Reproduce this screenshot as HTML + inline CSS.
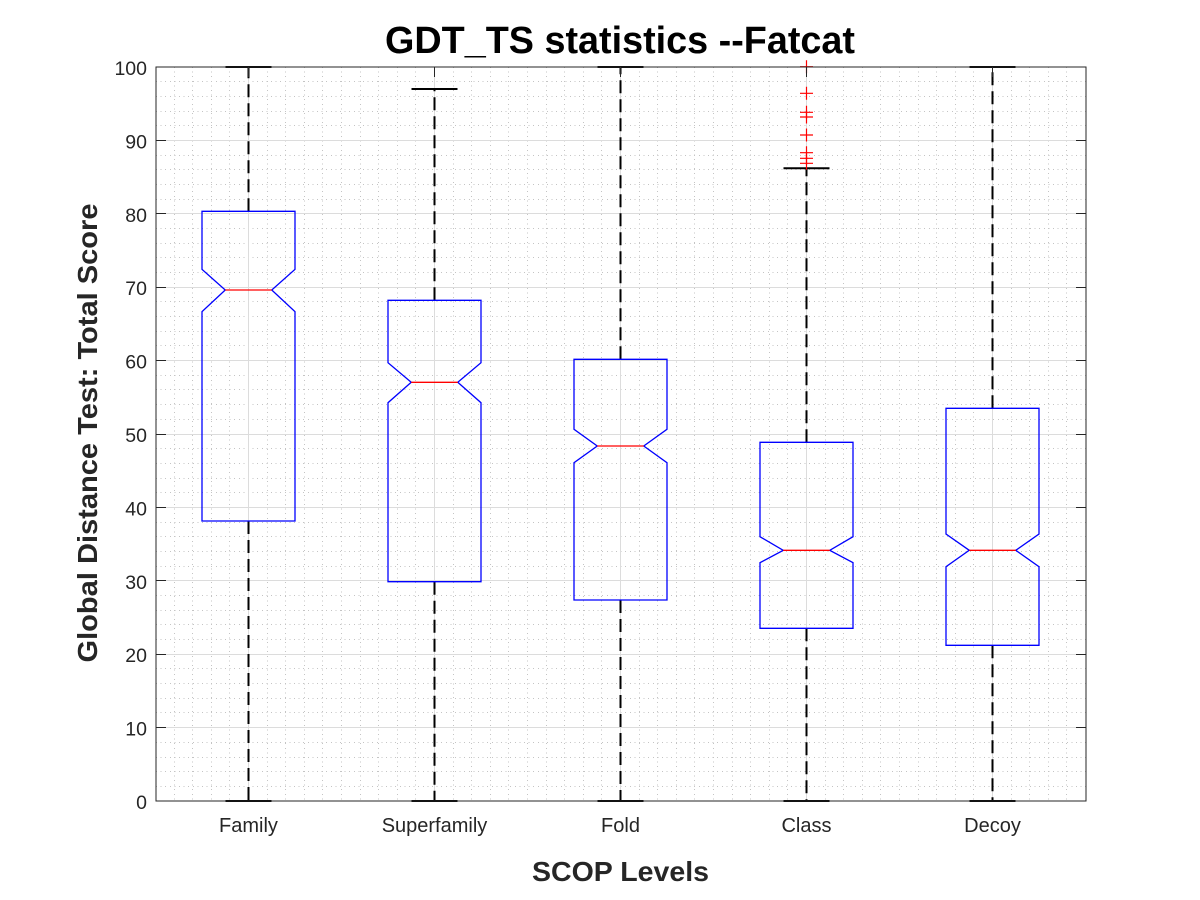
<!DOCTYPE html>
<html>
<head>
<meta charset="utf-8">
<style>
html,body{margin:0;padding:0;background:#fff;}
svg{display:block;}
</style>
</head>
<body>
<svg width="1200" height="900" viewBox="0 0 1200 900" xmlns="http://www.w3.org/2000/svg">
<rect x="0" y="0" width="1200" height="900" fill="#ffffff"/>
<rect x="156" y="67" width="930" height="734" fill="#ffffff"/>

<!-- minor grid -->
<g stroke="#c4c4c4" stroke-width="1" stroke-dasharray="1 3.6" fill="none" shape-rendering="crispEdges">
<path d="M156 786.5H1086M156 771.5H1086M156 757.5H1086M156 742.5H1086M156 712.5H1086M156 698.5H1086M156 683.5H1086M156 668.5H1086M156 639.5H1086M156 624.5H1086M156 610.5H1086M156 595.5H1086M156 566.5H1086M156 551.5H1086M156 536.5H1086M156 522.5H1086M156 492.5H1086M156 478.5H1086M156 463.5H1086M156 448.5H1086M156 419.5H1086M156 404.5H1086M156 389.5H1086M156 375.5H1086M156 345.5H1086M156 331.5H1086M156 316.5H1086M156 301.5H1086M156 272.5H1086M156 257.5H1086M156 243.5H1086M156 228.5H1086M156 199.5H1086M156 184.5H1086M156 169.5H1086M156 155.5H1086M156 125.5H1086M156 111.5H1086M156 96.5H1086M156 81.5H1086"/>
<path d="M174.5 67V801M192.5 67V801M211.5 67V801M229.5 67V801M267.5 67V801M285.5 67V801M304.5 67V801M322.5 67V801M341.5 67V801M360.5 67V801M378.5 67V801M397.5 67V801M415.5 67V801M453.5 67V801M471.5 67V801M490.5 67V801M508.5 67V801M527.5 67V801M546.5 67V801M564.5 67V801M583.5 67V801M601.5 67V801M639.5 67V801M657.5 67V801M676.5 67V801M694.5 67V801M713.5 67V801M732.5 67V801M750.5 67V801M769.5 67V801M787.5 67V801M825.5 67V801M843.5 67V801M862.5 67V801M880.5 67V801M899.5 67V801M918.5 67V801M936.5 67V801M955.5 67V801M973.5 67V801M1011.5 67V801M1029.5 67V801M1048.5 67V801M1066.5 67V801"/>
</g>

<!-- major grid -->
<g stroke="#dcdcdc" stroke-width="1" fill="none" shape-rendering="crispEdges">
<path d="M156 727.5H1086M156 654.5H1086M156 580.5H1086M156 507.5H1086M156 434.5H1086M156 360.5H1086M156 287.5H1086M156 213.5H1086M156 140.5H1086"/>
<path d="M248.5 67V801M434.5 67V801M620.5 67V801M806.5 67V801M992.5 67V801"/>
</g>

<!-- whiskers dashed -->
<g stroke="#000" stroke-width="2" stroke-dasharray="13 6" fill="none">
<path d="M248.5 211.3V67M248.5 521V801"/>
<path d="M434.5 300.3V89M434.5 581.7V801"/>
<path d="M620.5 359.3V67M620.5 600V801"/>
<path d="M806.5 442.3V168.3M806.5 628.3V801"/>
<path d="M992.5 408.3V67M992.5 645.3V801"/>
</g>

<!-- whisker caps -->
<g stroke="#000" stroke-width="2" fill="none">
<path d="M225.5 67H271.5M225.5 801H271.5"/>
<path d="M411.5 89H457.5M411.5 801H457.5"/>
<path d="M597.5 67H643.5M597.5 801H643.5"/>
<path d="M783.5 168.3H829.5M783.5 801H829.5"/>
<path d="M969.5 67H1015.5M969.5 801H1015.5"/>
</g>

<!-- boxes -->
<g stroke="#0000ff" stroke-width="1.3" fill="none" stroke-linejoin="miter">
<path d="M202 211.3H295V269.3L271.75 290L295 311.7V521H202V311.7L225.25 290L202 269.3Z"/>
<path d="M388 300.3H481V362.7L457.75 382.3L481 402.7V581.7H388V402.7L411.25 382.3L388 362.7Z"/>
<path d="M574 359.3H667V429.3L643.75 446L667 462.7V600H574V462.7L597.25 446L574 429.3Z"/>
<path d="M760 442.3H853V536.7L829.75 550.3L853 562.7V628.3H760V562.7L783.25 550.3L760 536.7Z"/>
<path d="M946 408.3H1039V534L1015.75 550.3L1039 566.7V645.3H946V566.7L969.25 550.3L946 534Z"/>
</g>

<!-- medians -->
<g stroke="#ff0000" stroke-width="1.3" fill="none">
<path d="M225.25 290H271.75"/>
<path d="M411.25 382.3H457.75"/>
<path d="M597.25 446H643.75"/>
<path d="M783.25 550.3H829.75"/>
<path d="M969.25 550.3H1015.75"/>
</g>

<!-- outliers -->
<g stroke="#ff0000" stroke-width="1.2" fill="none">
<path d="M800 66.7H813M806.5 60.2V73.2"/>
<path d="M800 93.3H813M806.5 86.8V99.8"/>
<path d="M800 112.3H813M806.5 105.8V118.8"/>
<path d="M800 117H813M806.5 110.5V123.5"/>
<path d="M800 135H813M806.5 128.5V141.5"/>
<path d="M800 152.7H813M806.5 146.2V159.2"/>
<path d="M800 158.3H813M806.5 151.8V164.8"/>
<path d="M800 163.3H813M806.5 156.8V169.8"/>
</g>

<!-- axes box and ticks -->
<g stroke="#262626" stroke-width="1.2" fill="none" shape-rendering="crispEdges">
<rect x="156" y="67" width="930" height="734"/>
<path d="M156 727.5H166M156 654.5H166M156 580.5H166M156 507.5H166M156 434.5H166M156 360.5H166M156 287.5H166M156 213.5H166M156 140.5H166"/>
<path d="M1086 727.5H1076M1086 654.5H1076M1086 580.5H1076M1086 507.5H1076M1086 434.5H1076M1086 360.5H1076M1086 287.5H1076M1086 213.5H1076M1086 140.5H1076"/>
<path d="M434.5 67V77M806.5 67V77M248.5 67V77M620.5 67V77M992.5 67V77"/>
</g>

<!-- y tick labels -->
<g font-family="'Liberation Sans', Arial, sans-serif" font-size="19.5" fill="#262626" text-anchor="end">
<text x="147" y="809">0</text>
<text x="147" y="735.6">10</text>
<text x="147" y="662.2">20</text>
<text x="147" y="588.8">30</text>
<text x="147" y="515.4">40</text>
<text x="147" y="442">50</text>
<text x="147" y="368.6">60</text>
<text x="147" y="295.2">70</text>
<text x="147" y="221.8">80</text>
<text x="147" y="148.4">90</text>
<text x="147" y="75">100</text>
</g>

<!-- x tick labels -->
<g font-family="'Liberation Sans', Arial, sans-serif" font-size="20" fill="#262626" text-anchor="middle">
<text x="248.5" y="832">Family</text>
<text x="434.5" y="832">Superfamily</text>
<text x="620.5" y="832">Fold</text>
<text x="806.5" y="832">Class</text>
<text x="992.5" y="832">Decoy</text>
</g>

<!-- title and labels -->
<text x="620" y="53" font-family="'Liberation Sans', Arial, sans-serif" font-size="38" font-weight="bold" fill="#000" text-anchor="middle" textLength="470" lengthAdjust="spacingAndGlyphs">GDT_TS statistics --Fatcat</text>
<text x="620.5" y="881" font-family="'Liberation Sans', Arial, sans-serif" font-size="28" font-weight="bold" fill="#262626" text-anchor="middle" textLength="177" lengthAdjust="spacingAndGlyphs">SCOP Levels</text>
<text transform="translate(97,433) rotate(-90)" x="0" y="0" font-family="'Liberation Sans', Arial, sans-serif" font-size="28" font-weight="bold" fill="#262626" text-anchor="middle" textLength="459" lengthAdjust="spacingAndGlyphs">Global Distance Test: Total Score</text>
</svg>
</body>
</html>
